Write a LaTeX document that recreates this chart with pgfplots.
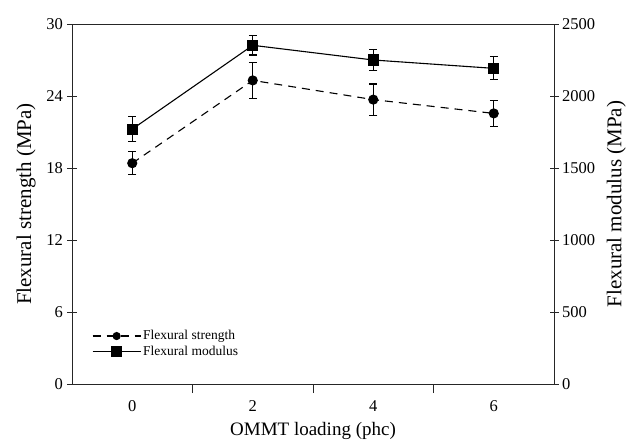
\documentclass[border=0pt]{standalone}
\usepackage{fontspec}
\setmainfont{Liberation Serif}
\usepackage{pgfplots}
\pgfplotsset{compat=1.18}
\begin{document}
\begin{tikzpicture}
\pgfplotsset{
  every axis/.append style={
    scale only axis, width=482pt, height=360pt,
    xmin=-1, xmax=7, ymin=0,
    /pgf/number format/assume math mode=true,
    /pgf/number format/set thousands separator={},
    tick label style={font=\fontsize{16.5}{18}\selectfont},
    label style={font=\fontsize{19}{21}\selectfont},
    ylabel style={font=\fontsize{21}{23}\selectfont},
    axis line style={black!85, line width=0.9pt},
    every tick/.style={black!85, line width=0.9pt},
  },
  my legend/.style={legend image code/.code={\draw[mark repeat=2,mark phase=2] plot coordinates {(0pt,0pt) (24pt,0pt) (48pt,0pt)};}},
}
\begin{axis}[
  name=a,
  ymax=30,
  ytick={0,6,12,18,24,30},
  ytick pos=left,
  ytick align=center,
  major tick length=9pt,
  xtick={1,3,5}, xticklabels={}, xtick pos=bottom, xtick align=outside,
  extra x ticks={0,2,4,6}, extra x tick labels={0,2,4,6},
  extra x tick style={major tick length=0pt, xticklabel style={yshift=-13pt}},
  ylabel={Flexural strength (MPa)},
  xlabel={OMMT loading (phc)},
  ylabel style={yshift=4pt},
  xlabel style={yshift=5pt},
  yticklabel style={xshift=-1pt},
]
\addplot[black, line width=1.1pt, dashed, dash pattern=on 8pt off 6pt, mark=*, mark size=4.5pt, mark options={solid},
  error bars/.cd, y dir=both, y explicit, error bar style={solid, line width=1.1pt},
  error mark options={rotate=90, mark size=4pt, line width=1.1pt}]
  coordinates {(0,18.4) +- (0,0.97) (2,25.3) +- (0,1.5) (4,23.7) +- (0,1.3) (6,22.55) +- (0,1.1)};
\end{axis}
\begin{axis}[
  ymax=2500,
  axis x line=none,
  axis y line*=right,
  ytick={0,500,1000,1500,2000,2500},
  ytick align=center,
  major tick length=9pt,
  ylabel={Flexural modulus (MPa)},
  ylabel style={yshift=-5pt},
  legend style={at={(0.035,0.16)}, anchor=north west, draw=none, fill=none,
    font=\fontsize{13.5}{15}\selectfont, row sep=1pt},
  legend cell align=left,
  my legend,
]
\addlegendimage{black, line width=1.1pt, dashed, dash pattern=on 8pt off 6pt, mark=*, mark size=3.5pt, mark options={solid}}
\addlegendentry{Flexural strength}
\addplot[black, line width=1.1pt, mark=square*, mark size=5pt,
  error bars/.cd, y dir=both, y explicit, error bar style={line width=1.1pt},
  error mark options={rotate=90, mark size=4pt, line width=1.1pt}]
  coordinates {(0,1770) +- (0,85) (2,2352) +- (0,67) (4,2250) +- (0,72) (6,2192) +- (0,80)};
\addlegendentry{Flexural modulus}
\end{axis}
\pgfresetboundingbox
\path ([shift={(-72pt,-56pt)}]a.south west) rectangle ([shift={(73pt,24pt)}]a.north east);
\end{tikzpicture}
\end{document}
